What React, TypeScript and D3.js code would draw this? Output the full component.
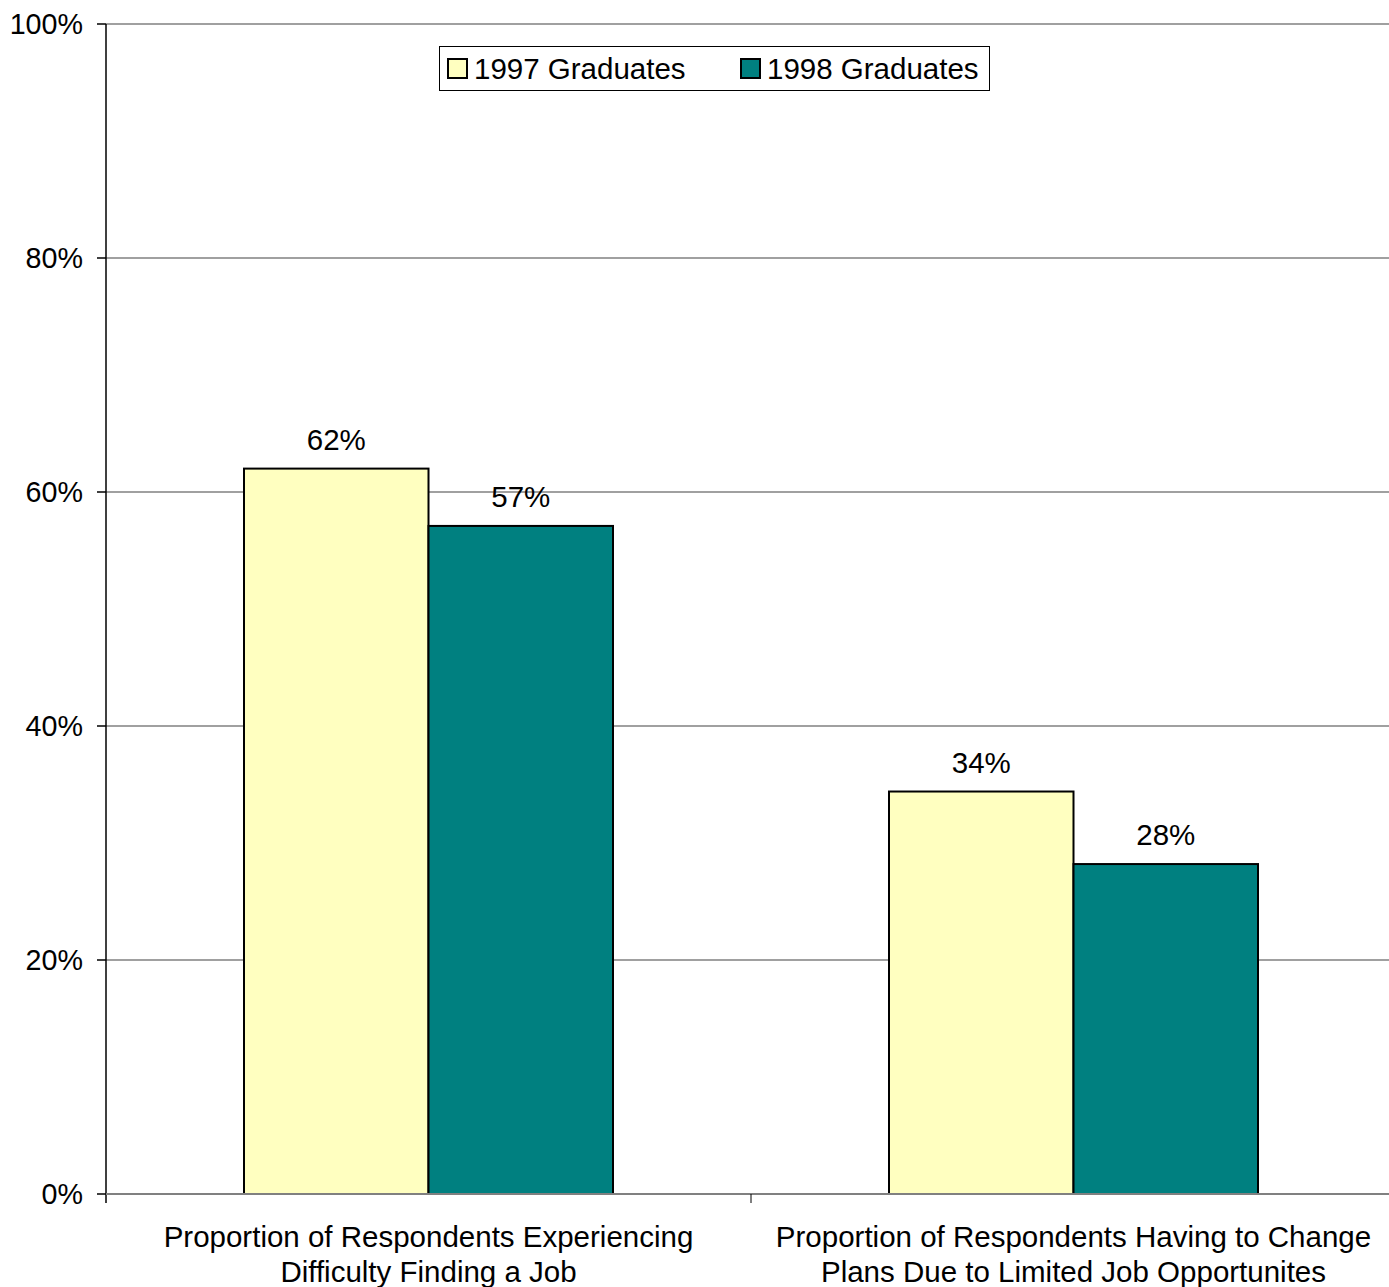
import * as d3 from 'd3';

// chart data
const categories = [
  ['Proportion of Respondents Experiencing', 'Difficulty Finding a Job'],
  ['Proportion of Respondents Having to Change', 'Plans Due to Limited Job Opportunites'],
];
const seriesNames = ['1997 Graduates', '1998 Graduates'];
const values1997 = [0.62, 0.344];
const values1998 = [0.571, 0.282];
const yTicks = [0, 0.2, 0.4, 0.6, 0.8, 1.0];
const colors = ['#FFFFC0', '#008080'];

export default function App() {
  const width = 1389;
  const height = 1287;
  const margin = { top: 24, left: 106, bottom: 93 };
  const plotRight = 1396;
  const innerHeight = height - margin.top - margin.bottom;

  const font = '"Liberation Sans", Arial, sans-serif';
  const fs = 29.5;

  const x = d3.scaleBand<number>()
    .domain(categories.map((_, i) => i))
    .range([margin.left, plotRight])
    .paddingInner(0)
    .paddingOuter(0);

  // two bars side by side, centered in each category band
  const inner = d3.scaleBand<number>()
    .domain([0, 1])
    .range([0, x.bandwidth()])
    .paddingOuter(0.748)
    .paddingInner(0);

  const y = d3.scaleLinear().domain([0, 1]).range([margin.top + innerHeight, margin.top]);
  const pct = d3.format('.0%');

  const series = [values1997, values1998];

  return (
    <svg width={width} height={height} style={{ position: 'absolute', left: 0, top: 0, background: '#fff' }}>
      {/* gridlines + y ticks */}
      {yTicks.map(t => (
        <g key={t}>
          <line x1={margin.left} x2={plotRight} y1={y(t)} y2={y(t)} stroke="#808080" strokeWidth={1.5} />
          <line x1={margin.left - 9} x2={margin.left} y1={y(t)} y2={y(t)} stroke="#000" strokeWidth={1.5} />
          <text x={83} y={y(t)} dy="0.36em" textAnchor="end" fontFamily={font} fontSize={28.7} fill="#000">
            {pct(t)}
          </text>
        </g>
      ))}

      {/* bars */}
      {categories.map((_, ci) => (
        <g key={ci} transform={`translate(${x(ci)},0)`}>
          {series.map((vals, si) => (
            <g key={si}>
              <rect
                x={inner(si)}
                y={y(vals[ci])}
                width={inner.bandwidth()}
                height={y(0) - y(vals[ci])}
                fill={colors[si]}
                stroke="#000"
                strokeWidth={2}
              />
              <text
                x={(inner(si) ?? 0) + inner.bandwidth() / 2}
                y={y(vals[ci]) - 19}
                textAnchor="middle"
                fontFamily={font}
                fontSize={fs}
                fill="#000"
              >
                {pct(vals[ci])}
              </text>
            </g>
          ))}
        </g>
      ))}

      {/* axes */}
      <line x1={margin.left} x2={margin.left} y1={margin.top} y2={y(0) + 9} stroke="#000" strokeWidth={1.5} />
      <line x1={margin.left} x2={plotRight} y1={y(0)} y2={y(0)} stroke="#808080" strokeWidth={2} />
      {categories.map((_, ci) => (
        <line key={ci} x1={(x(ci) ?? 0) + x.bandwidth()} x2={(x(ci) ?? 0) + x.bandwidth()} y1={y(0)} y2={y(0) + 9} stroke="#000" strokeWidth={1} />
      ))}

      {/* category labels */}
      {categories.map((lines, ci) => (
        <text key={ci} textAnchor="middle" fontFamily={font} fontSize={fs} fill="#000">
          {lines.map((l, li) => (
            <tspan key={li} x={(x(ci) ?? 0) + x.bandwidth() / 2} y={1247 + li * 35}>{l}</tspan>
          ))}
        </text>
      ))}

      {/* legend */}
      <g>
        <rect x={439.5} y={46.5} width={550} height={44} fill="#fff" stroke="#000" strokeWidth={1} />
        {seriesNames.map((name, i) => {
          const lx = i === 0 ? 448 : 741;
          return (
            <g key={name}>
              <rect x={lx} y={59} width={19} height={19} fill={colors[i]} stroke="#000" strokeWidth={2} />
              <text x={lx + 26} y={79} fontFamily={font} fontSize={fs} fill="#000">{name}</text>
            </g>
          );
        })}
      </g>
    </svg>
  );
}
